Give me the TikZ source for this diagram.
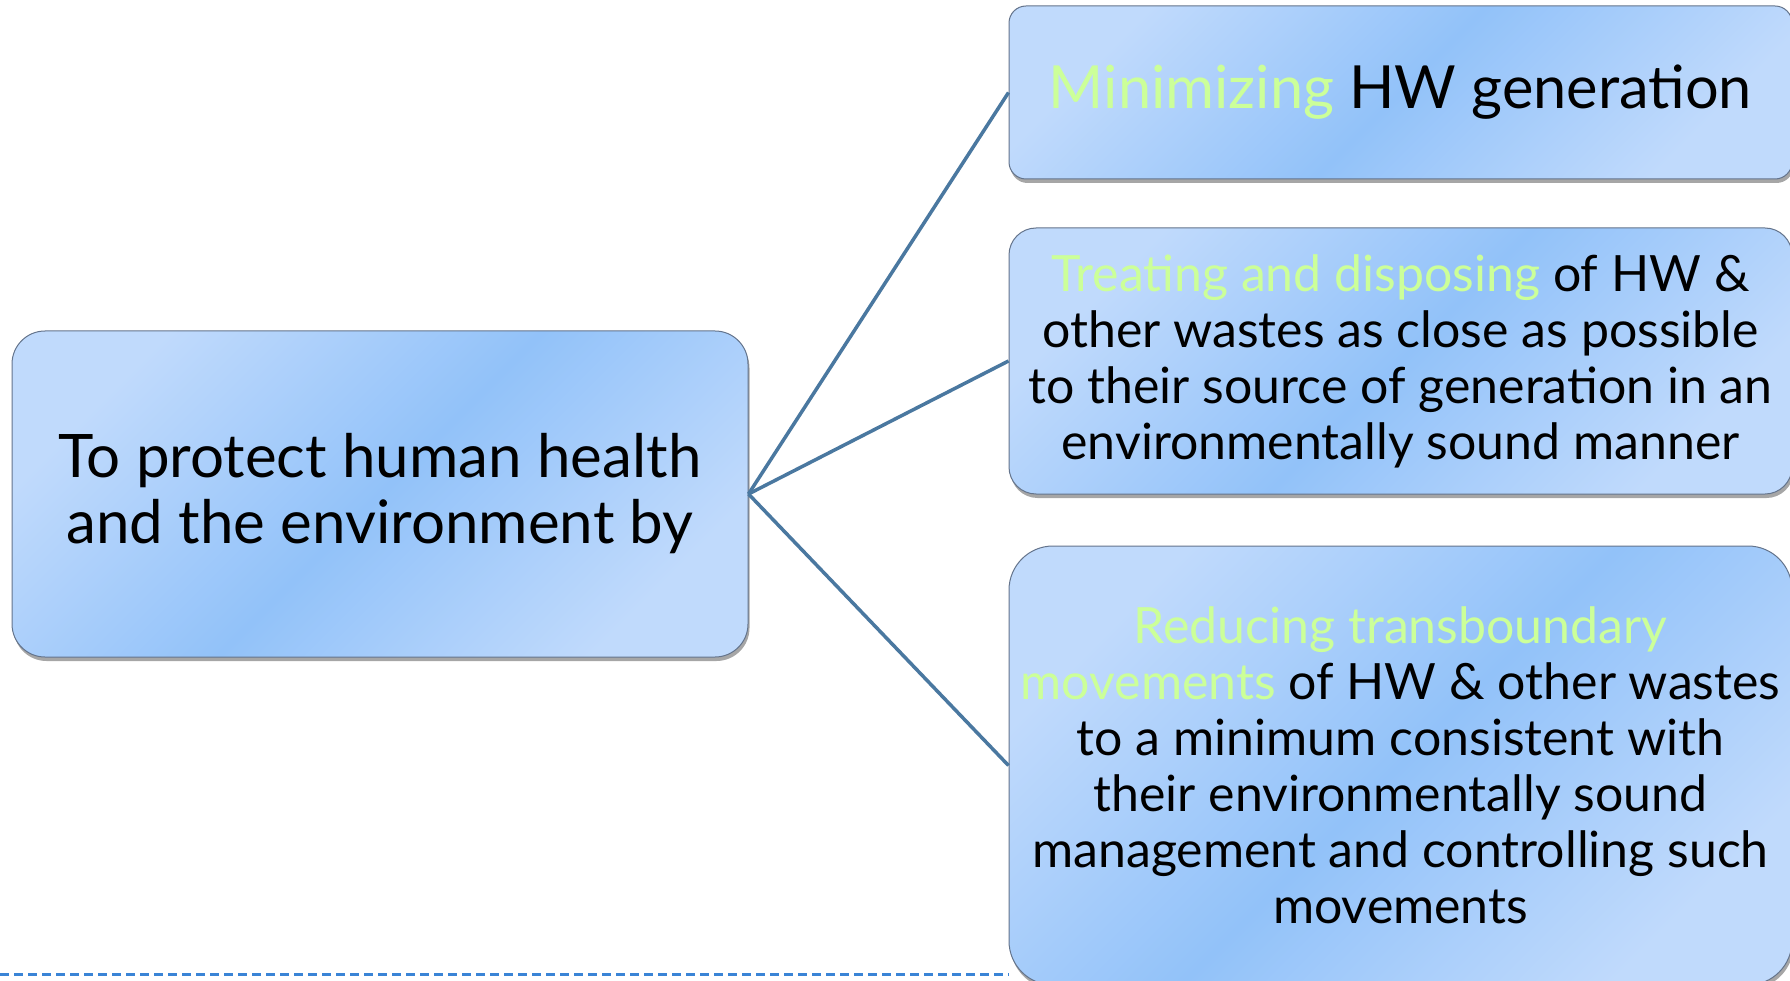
\documentclass[tikz,border=0pt]{standalone}
\usepackage{fontspec}
\setmainfont{Lato}
\usetikzlibrary{shadows}
\definecolor{bxl}{RGB}{192,218,252}
\definecolor{bxd}{RGB}{146,194,249}
\definecolor{bxedge}{RGB}{100,116,140}
\definecolor{linkc}{RGB}{74,120,160}
\definecolor{hl}{RGB}{204,255,153}
\definecolor{dashc}{RGB}{58,132,214}
\pgfdeclarehorizontalshading{boxgrad}{100bp}{color(0bp)=(bxl); color(25bp)=(bxl); color(50bp)=(bxd); color(75bp)=(bxl); color(100bp)=(bxl)}
\tikzset{
  sbox/.style={rectangle, draw=bxedge, line width=1pt, shading=boxgrad, shading angle=-45,
    align=center, text=black, inner sep=0pt,
    drop shadow={shadow xshift=1.5pt, shadow yshift=-4pt, opacity=0.35, fill=black}},
  link/.style={draw=linkc, line width=3.5pt},
}
\begin{document}
\begin{tikzpicture}[x=1pt,y=-1pt]
\clip (0,0) rectangle (1790,981);
\fill[white] (0,0) rectangle (1790,981);
\node[sbox, minimum width=736pt, minimum height=326pt, rounded corners=33pt,
  font=\fontsize{60}{66}\selectfont] (root) at (380,494)
  {To protect human health\\and the environment by};
\node[sbox, minimum width=783pt, minimum height=173pt, rounded corners=17pt,
  font=\fontsize{59.5}{70}\selectfont] (b1) at (1400.5,92.5)
  {\textcolor{hl}{Minimizing} HW generation};
\node[sbox, minimum width=783pt, minimum height=266pt, rounded corners=27pt,
  font=\fontsize{50}{56}\selectfont] (b2) at (1400.5,361)
  {\textcolor{hl}{Treating and disposing} of HW \&\\other wastes as close as possible\\to their source of generation in an\\environmentally sound manner};
\node[sbox, minimum width=783pt, minimum height=439pt, rounded corners=44pt,
  font=\fontsize{50}{56}\selectfont] (b3) at (1400.5,765.5)
  {\textcolor{hl}{Reducing transboundary}\\\textcolor{hl}{movements} of HW \& other wastes\\to a minimum consistent with\\their environmentally sound\\management and controlling such\\movements};
\draw[link] (root.east) -- (b1.west);
\draw[link] (root.east) -- (b2.west);
\draw[link] (root.east) -- (b3.west);
\coordinate (dl) at (0,974);
\coordinate (dr) at (1009,974);
\draw[dashc, line width=3pt, dash pattern=on 9pt off 5pt] (dl) -- (dr);
\end{tikzpicture}
\end{document}
